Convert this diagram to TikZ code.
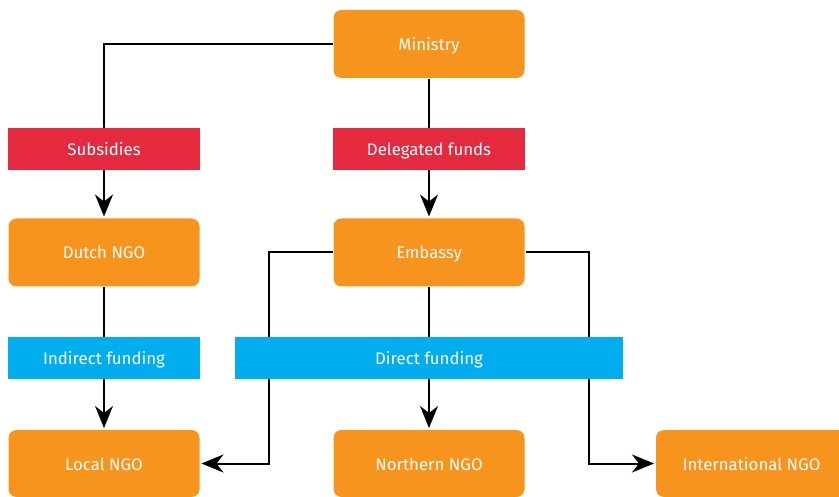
\documentclass[tikz,border=0pt]{standalone}
\usepackage{fontspec}
\setmainfont{Fira Sans}
\usepackage{tikz}
\usetikzlibrary{arrows.meta}
\definecolor{orgorange}{HTML}{F7941E}
\definecolor{fundred}{HTML}{E52A40}
\definecolor{fundblue}{HTML}{00AEEF}

\begin{document}
\begin{tikzpicture} [x=1pt, y=-1pt, line width=2pt, >={Stealth[length=22pt,width=18pt,inset=7pt]},
	org/.style = {fill=orgorange, rounded corners=8pt, minimum width=191pt, minimum height=68pt, text=white, text height=15pt, text depth=2pt, font=\fontsize{16.8}{20}\selectfont},
	fund/.style = {minimum width=192pt, minimum height=42pt, text=white, text height=15pt, text depth=2pt, font=\fontsize{16.8}{20}\selectfont}]
\useasboundingbox (0,0) rectangle (839,497);
\def\xleft{104}
\def\xmid{429}
\def\xright{751.5}
% organisations
\node[org] (min) at (\xmid,44) {Ministry};
\node[org] (dutch) at (\xleft,252.5) {Dutch NGO};
\node[org] (emb) at (\xmid,252.5) {Embassy};
\node[org, minimum height=67pt] (local) at (\xleft,463.5) {Local NGO};
\node[org, minimum height=67pt] (north) at (\xmid,463.5) {Northern NGO};
\node[org, minimum height=67pt] (intl) at (\xright,463.5) {International NGO};
% money flows
\draw[->, shorten >=1pt] (min.west) -| (dutch.north);
\draw[->, shorten >=1pt] (min.south) -- (emb.north);
\draw[->, shorten >=1pt] (dutch.south) -- (local.north);
\draw[->, shorten >=1pt] (emb.south) -- (north.north);
\draw[->, shorten >=1pt] (emb.west) -- ++(-64,0) |- (local.east);
\draw[->, shorten >=1pt] (emb.east) -- ++(63,0) |- (intl.west);
% labels on the flows
\node[fund, fill=fundred] (sub) at (\xleft,149) {Subsidies};
\node[fund, fill=fundred] (del) at (\xmid,149) {Delegated funds};
\node[fund, fill=fundblue] (ind) at (\xleft,358) {Indirect funding};
\node[fund, fill=fundblue, minimum width=388pt] (dir) at (\xmid,358) {Direct funding};
\end{tikzpicture}
\end{document}
